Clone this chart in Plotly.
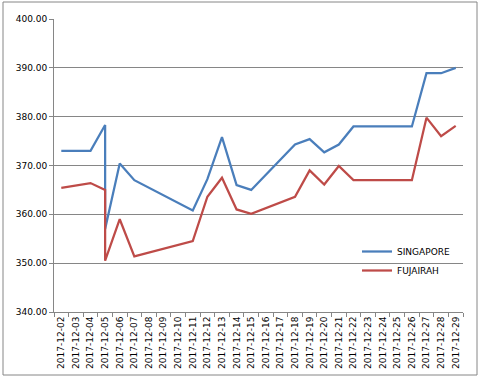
import plotly.graph_objects as go

# Category axis (all calendar days shown as ticks)
categories = ["2017-12-%02d" % d for d in range(2, 30)]

# Observation dates (12-05 appears twice -> vertical drop)
dates = ["2017-12-02", "2017-12-04", "2017-12-05", "2017-12-05", "2017-12-06",
         "2017-12-07", "2017-12-11", "2017-12-12", "2017-12-13", "2017-12-14",
         "2017-12-15", "2017-12-18", "2017-12-19", "2017-12-20", "2017-12-21",
         "2017-12-22", "2017-12-26", "2017-12-27", "2017-12-28", "2017-12-29"]

singapore = [373.0, 373.0, 378.3, 357.0, 370.4,
             367.0, 360.8, 367.2, 375.8, 366.0,
             365.0, 374.3, 375.4, 372.7, 374.3,
             378.0, 378.0, 388.9, 388.9, 390.0]

fujairah = [365.4, 366.4, 365.0, 350.5, 359.0,
            351.4, 354.5, 363.6, 367.5, 361.0,
            360.1, 363.6, 369.0, 366.1, 369.9,
            367.0, 367.0, 379.8, 376.0, 378.1]

y_ticks = [340, 350, 360, 370, 380, 390, 400]

W, H = 482, 380
ML, MR, MT, MB = 54, 19, 19, 68
PW, PH = W - ML - MR, H - MT - MB

fig = go.Figure()
fig.add_trace(go.Scatter(x=dates, y=singapore, mode="lines", name="SINGAPORE",
                         line=dict(color="#4A7EBB", width=2.25)))
fig.add_trace(go.Scatter(x=dates, y=fujairah, mode="lines", name="FUJAIRAH",
                         line=dict(color="#BE4B48", width=2.25)))

fig.update_layout(
    width=W, height=H,
    margin=dict(l=ML, r=MR, t=MT, b=MB, pad=0, autoexpand=False),
    paper_bgcolor="white", plot_bgcolor="white",
    font=dict(family="DejaVu Sans", size=9, color="#000000"),
    showlegend=True,
    legend=dict(x=(357 - ML) / PW, y=(312 - 237) / PH, xanchor="left", yanchor="top",
                bgcolor="rgba(0,0,0,0)", font=dict(size=9), itemwidth=30,
                tracegroupgap=0),
    xaxis=dict(type="category", categoryorder="array", categoryarray=categories,
               range=[-0.5, len(categories) - 0.5],
               tickmode="array", tickvals=categories, ticktext=categories,
               tickangle=-90, tickson="boundaries", ticks="outside", ticklen=4,
               tickcolor="#868686", showline=True, linecolor="#868686", linewidth=1,
               showgrid=False, zeroline=False, fixedrange=True, automargin=False),
    yaxis=dict(range=[340, 400], tickvals=y_ticks, tickformat=".2f",
               ticks="outside", ticklen=4, tickcolor="#868686",
               showline=True, linecolor="#868686", linewidth=1,
               showgrid=True, gridcolor="#868686", gridwidth=1,
               zeroline=False, fixedrange=True, automargin=False),
)

# outer chart border
fig.add_shape(type="rect", xref="paper", yref="paper",
              x0=(3 - ML) / PW, x1=(477 - ML) / PW,
              y0=(312 - 375) / PH, y1=(312 - 2) / PH,
              line=dict(color="#868686", width=1), fillcolor="rgba(0,0,0,0)")

fig.write_html("out.html", config={"displayModeBar": False},
               post_script="document.body.style.margin='0';document.body.style.overflow='hidden';")
